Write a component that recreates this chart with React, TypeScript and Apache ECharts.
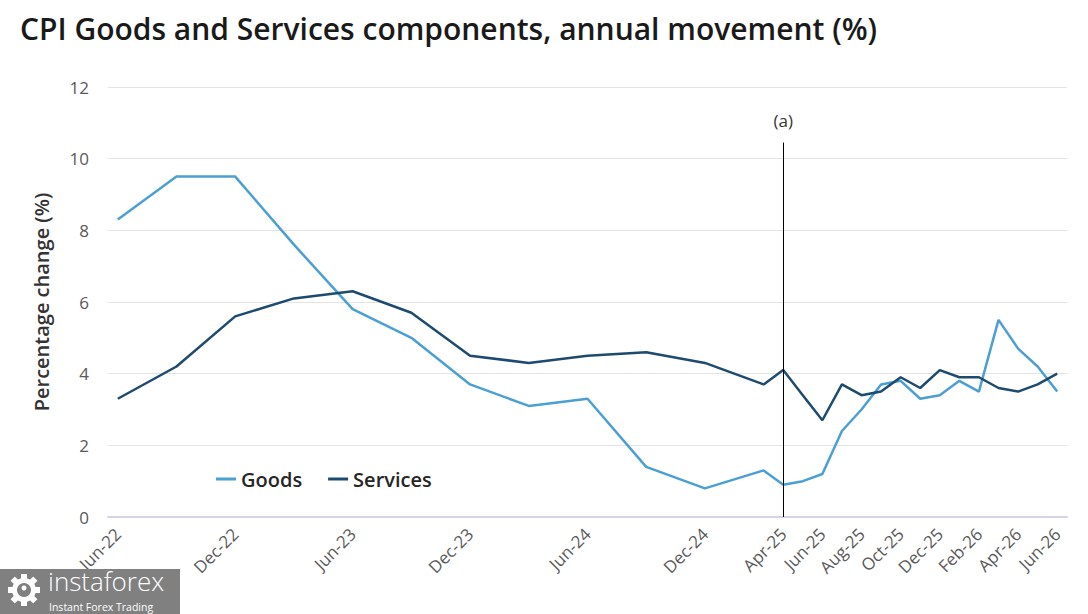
import React, { useEffect, useRef } from "react";
import * as echarts from "echarts";

const months = [
  "Jun-22", "Jul-22", "Aug-22", "Sep-22", "Oct-22", "Nov-22", "Dec-22",
  "Jan-23", "Feb-23", "Mar-23", "Apr-23", "May-23", "Jun-23", "Jul-23", "Aug-23", "Sep-23", "Oct-23", "Nov-23", "Dec-23",
  "Jan-24", "Feb-24", "Mar-24", "Apr-24", "May-24", "Jun-24", "Jul-24", "Aug-24", "Sep-24", "Oct-24", "Nov-24", "Dec-24",
  "Jan-25", "Feb-25", "Mar-25", "Apr-25", "May-25", "Jun-25", "Jul-25", "Aug-25", "Sep-25", "Oct-25", "Nov-25", "Dec-25",
  "Jan-26", "Feb-26", "Mar-26", "Apr-26", "May-26", "Jun-26",
];

const tickLabels = [
  "Jun-22", "Dec-22", "Jun-23", "Dec-23", "Jun-24", "Dec-24",
  "Apr-25", "Jun-25", "Aug-25", "Oct-25", "Dec-25", "Feb-26", "Apr-26", "Jun-26",
];

const obsDates = [
  "Jun-22", "Sep-22", "Dec-22", "Mar-23", "Jun-23", "Sep-23", "Dec-23", "Mar-24", "Jun-24", "Sep-24", "Dec-24", "Mar-25",
  "Apr-25", "May-25", "Jun-25", "Jul-25", "Aug-25", "Sep-25", "Oct-25", "Nov-25", "Dec-25",
  "Jan-26", "Feb-26", "Mar-26", "Apr-26", "May-26", "Jun-26",
];

const goodsValues = [
  8.3, 9.5, 9.5, 7.6, 5.8, 5.0, 3.7, 3.1, 3.3, 1.4, 0.8, 1.3,
  0.9, 1.0, 1.2, 2.4, 3.0, 3.7, 3.8, 3.3, 3.4, 3.8, 3.5, 5.5, 4.7, 4.2, 3.5,
];

const servicesValues = [
  3.3, 4.2, 5.6, 6.1, 6.3, 5.7, 4.5, 4.3, 4.5, 4.6, 4.3, 3.7,
  4.1, 3.4, 2.7, 3.7, 3.4, 3.5, 3.9, 3.6, 4.1, 3.9, 3.9, 3.6, 3.5, 3.7, 4.0,
];

const markerDate = "Apr-25";
const markerTop = 10.45;
const markerLabel = "(a)";

const FONT = "'Open Sans', 'Noto Sans', sans-serif";

export default function App() {
  const ref = useRef<HTMLDivElement>(null);

  useEffect(() => {
    if (!ref.current) return;
    const chart = echarts.init(ref.current, undefined, { renderer: "svg" });

    const teeth: any[] = [];
    for (let i = 0; i < 8; i++) {
      teeth.push({
        type: "rect",
        x: 0,
        y: 0,
        z: 101,
        rotation: (i * Math.PI) / 4,
        shape: { x: -3, y: -16, width: 6, height: 6 },
        style: { fill: "#ffffff" },
      });
    }

    chart.setOption({
      animation: false,
      textStyle: { fontFamily: FONT },
      title: {
        text: "CPI Goods and Services components, annual movement (%)",
        left: 15,
        top: 8,
        textStyle: { fontSize: 30, fontWeight: 600, color: "#1a1a1a", fontFamily: FONT },
      },
      legend: {
        left: 211,
        top: 464,
        icon: "rect",
        itemWidth: 20,
        itemHeight: 3,
        itemGap: 26,
        textStyle: { fontSize: 20, color: "#262626", fontWeight: 600, fontFamily: FONT },
        data: ["Goods", "Services"],
      },
      grid: { left: 108, right: 21, top: 87, bottom: 97, containLabel: false },
      xAxis: {
        type: "category",
        data: months,
        boundaryGap: true,
        axisLine: { show: true, lineStyle: { color: "#d4d4e6", width: 2 } },
        axisTick: { show: false },
        splitLine: { show: false },
        axisLabel: {
          rotate: 45,
          interval: (_idx: number, value: string) => tickLabels.includes(value),
          color: "#595959",
          fontSize: 17,
          margin: 14,
          fontFamily: FONT,
        },
      },
      yAxis: {
        type: "value",
        min: 0,
        max: 12,
        interval: 2,
        name: "Percentage change (%)",
        nameLocation: "middle",
        nameGap: 57,
        nameRotate: 90,
        nameTextStyle: { fontSize: 20, fontWeight: 600, color: "#333333", fontFamily: FONT },
        axisLine: { show: false },
        axisTick: { show: false },
        axisLabel: { color: "#595959", fontSize: 17, margin: 19, fontFamily: FONT },
        splitLine: { lineStyle: { color: "#e4e4e4", width: 1 } },
      },
      series: [
        {
          name: "Goods",
          type: "line",
          data: obsDates.map((d, i) => [d, goodsValues[i]]),
          connectNulls: true,
          symbol: "none",
          lineStyle: { color: "#4b9fd3", width: 2.5 },
          itemStyle: { color: "#4b9fd3" },
          markLine: {
            silent: true,
            symbol: "none",
            lineStyle: { color: "#000000", width: 1, type: "solid" },
            label: {
              show: true,
              position: "end",
              formatter: markerLabel,
              color: "#333333",
              fontSize: 17,
              distance: 14,
              fontFamily: FONT,
            },
            data: [[{ coord: [markerDate, 0] }, { coord: [markerDate, markerTop] }]],
          },
        },
        {
          name: "Services",
          type: "line",
          data: obsDates.map((d, i) => [d, servicesValues[i]]),
          connectNulls: true,
          symbol: "none",
          lineStyle: { color: "#1d4a6e", width: 2.5 },
          itemStyle: { color: "#1d4a6e" },
        },
      ],
      graphic: [
        {
          type: "rect",
          left: 0,
          top: 569,
          z: 100,
          shape: { width: 180, height: 45 },
          style: { fill: "#808080" },
        },
        {
          type: "group",
          x: 24,
          y: 590,
          z: 101,
          children: [
            ...teeth,
            { type: "ring", z: 101, shape: { cx: 0, cy: 0, r: 12, r0: 7 }, style: { fill: "#ffffff" } },
            { type: "circle", z: 101, shape: { cx: 0, cy: -2, r: 2.5 }, style: { fill: "#ffffff" } },
          ],
        },
        {
          type: "text",
          left: 48,
          top: 568,
          z: 101,
          style: { text: "instaforex", fill: "#ffffff", fontSize: 26, lineHeight: 26, fontWeight: 300, fontFamily: FONT },
        },
        {
          type: "text",
          left: 49,
          top: 601,
          z: 101,
          style: { text: "Instant Forex Trading", fill: "#ffffff", fontSize: 10.5, lineHeight: 12, fontFamily: FONT },
        },
      ],
    });

    return () => chart.dispose();
  }, []);

  return (
    <div
      ref={ref}
      style={{ position: "fixed", left: 0, top: 0, width: 1088, height: 614, background: "#ffffff" }}
    />
  );
}
